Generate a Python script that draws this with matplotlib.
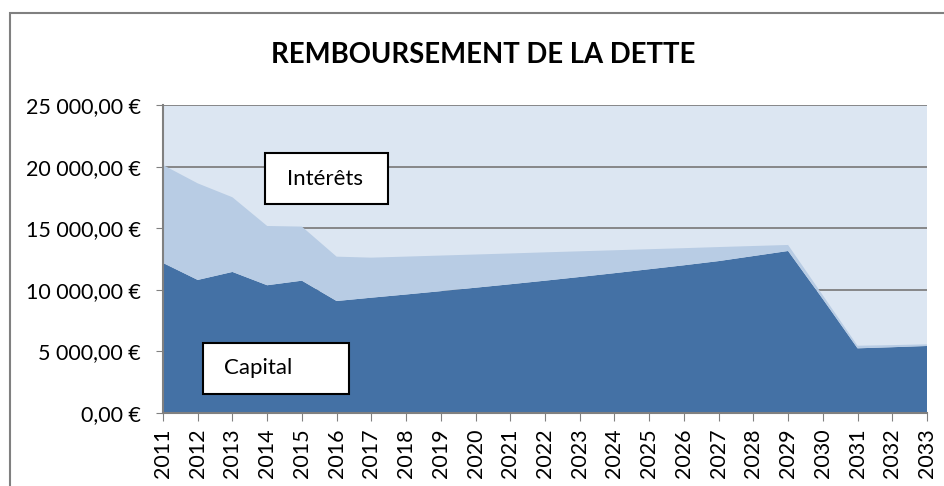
import matplotlib.pyplot as plt
from matplotlib.patches import Rectangle
from matplotlib.ticker import FuncFormatter
import numpy as np

years = list(range(2011, 2034))
capital = [12180, 10800, 11450, 10370, 10740, 9090, 9360, 9620, 9890, 10170, 10450, 10740,
           11040, 11350, 11670, 11990, 12330, 12740, 13150, 9250, 5250, 5340, 5440]
interets = [7950, 7840, 6060, 4810, 4390, 3600, 3250, 3075, 2890, 2695, 2500, 2300,
            2085, 1860, 1625, 1390, 1140, 815, 490, 300, 210, 170, 135]
y_ticks = [0, 5000, 10000, 15000, 20000, 25000]

col_capital = "#4471A5"
col_interets = "#B8CCE4"
col_fond = "#DCE6F2"
col_gris = "#808080"

plt.rcParams["font.family"] = ["Lato", "DejaVu Sans"]

fig = plt.figure(figsize=(9.45, 4.86), dpi=100)
ax = fig.add_axes([163 / 945, 1 - 413 / 486, (927 - 163) / 945, (413 - 105) / 486])

ax.set_facecolor(col_fond)
ax.stackplot(years, capital, interets, colors=[col_capital, col_interets], linewidth=0)

ax.set_xlim(years[0], years[-1])
ax.set_ylim(0, 25000)
ax.set_xticks(years)
ax.set_yticks(y_ticks)
ax.yaxis.set_major_formatter(FuncFormatter(
    lambda v, p: f"{v:,.2f}".replace(",", " ").replace(".", ",") + " €"))
ax.tick_params(axis="x", labelrotation=90, labelsize=15.5, length=6, color=col_gris, pad=5)
ax.tick_params(axis="y", labelsize=15.5, length=5, color=col_gris, pad=11)

ax.grid(axis="y", color=col_gris, linewidth=1.3)
ax.set_axisbelow(True)
ax.spines["right"].set_visible(False)
ax.spines["top"].set_visible(False)
for s in ["left", "bottom"]:
    ax.spines[s].set_color(col_gris)
    ax.spines[s].set_linewidth(1.5)

# cadre du graphique
fig.patches.append(Rectangle((10 / 945, -0.1), 1.2, 1.1 - 13 / 486, transform=fig.transFigure,
                             fill=False, edgecolor=col_gris, linewidth=1.5))

fig.text(483 / 945, 1 - 55 / 486, "REMBOURSEMENT DE LA DETTE", ha="center", va="center",
         fontsize=19.8, fontweight="bold")

# zones de texte
for (x0, y0, x1, y1, tx, label) in [(265, 153, 388, 204, 287, "Intérêts"),
                                    (203, 343, 349, 394, 224, "Capital")]:
    fig.patches.append(Rectangle((x0 / 945, 1 - y1 / 486), (x1 - x0) / 945, (y1 - y0) / 486,
                                 transform=fig.transFigure, facecolor="white",
                                 edgecolor="black", linewidth=1.5, zorder=5))
    fig.text(tx / 945, 1 - (y0 + y1) / 2 / 486, label, ha="left", va="center",
             fontsize=16, zorder=6)

fig.savefig("out.png", dpi=100)
